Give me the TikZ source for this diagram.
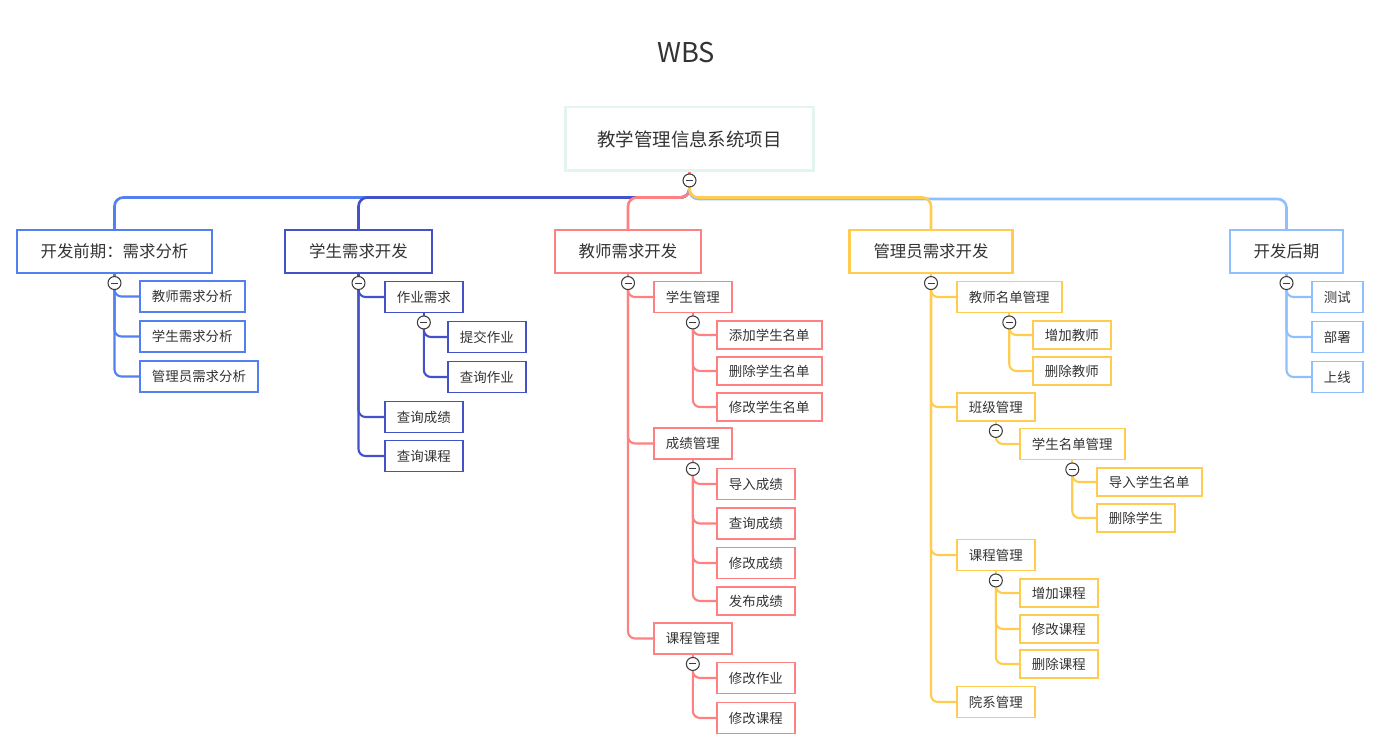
\documentclass[tikz,border=0pt]{standalone}
\usepackage{fontspec}
\setmainfont{Noto Sans CJK SC}
\usepackage{tikz}
\usetikzlibrary{calc}
\definecolor{ink}{RGB}{51,51,51}
\definecolor{rootline}{RGB}{228,245,241}
\definecolor{foldline}{RGB}{60,60,60}
\definecolor{wbsblue}{RGB}{82,128,240}
\definecolor{wbsnavy}{RGB}{67,82,200}
\definecolor{wbsred}{RGB}{255,128,128}
\definecolor{wbsyellow}{RGB}{255,204,80}
\definecolor{wbssky}{RGB}{142,192,255}
\tikzset{
	rootbox/.style={draw=rootline, line width=1.7pt, minimum height=1.28cm, inner xsep=0.64cm, text=ink, font=\fontsize{10.5pt}{12pt}\selectfont},
	topbox/.style={draw=#1, line width=1.2pt, minimum height=0.86cm, inner xsep=0.48cm, text=ink, font=\fontsize{9.35pt}{11pt}\selectfont},
	leaf/.style={draw=#1, line width=1.1pt, minimum height=0.62cm, inner xsep=0.24cm, anchor=west, text=ink, font=\fontsize{7.65pt}{9pt}\selectfont},
	leafs/.style={leaf=#1, minimum height=0.56cm},
	branch/.style={draw=#1, line width=1.5pt, rounded corners=5pt},
	twig/.style={draw=#1, line width=1.2pt, rounded corners=4pt},
	foldc/.style={circle, draw=foldline, fill=white, line width=0.6pt, minimum size=0.26cm, inner sep=0pt}
}
\def\foldmark#1{\node[foldc] (mark#1) at (#1) {}; \draw[foldline, line width=0.6pt] ($(#1)+(-3.5,0)$) -- ($(#1)+(3.5,0)$);}

\begin{document}
\begin{tikzpicture}[x=0.02cm, y=-0.02cm]
	%%%%% START %%%%%
	\useasboundingbox (0,0) rectangle (1377,749);
	
	\node[text=ink, font=\fontsize{15.5pt}{18pt}\selectfont] (title) at (686,53) {WBS};
	\node[rootbox] (root) at (689.5,139) {教学管理信息系统项目};
	
	\node[topbox=wbsblue] (k1) at (114.5,251.5) {开发前期：需求分析};
	\node[topbox=wbsnavy] (k2) at (358.5,251.5) {学生需求开发};
	\node[topbox=wbsred] (k3) at (628,251.5) {教师需求开发};
	\node[topbox=wbsyellow] (k4) at (931,251.5) {管理员需求开发};
	\node[topbox=wbssky] (k5) at (1286.5,251.5) {开发后期};
	
	\node[leaf=wbsblue] (a1) at (139,296.5) {教师需求分析};
	\node[leaf=wbsblue] (a2) at (139,336.5) {学生需求分析};
	\node[leaf=wbsblue] (a3) at (139,376.5) {管理员需求分析};
	
	\node[leaf=wbsnavy] (b1) at (384,297) {作业需求};
	\node[leaf=wbsnavy] (b11) at (447,337) {提交作业};
	\node[leaf=wbsnavy] (b12) at (447,377) {查询作业};
	\node[leaf=wbsnavy] (b2) at (384,417) {查询成绩};
	\node[leaf=wbsnavy] (b3) at (384,456) {查询课程};
	
	\node[leaf=wbsred] (c1) at (653,297) {学生管理};
	\node[leafs=wbsred] (c11) at (716,335) {添加学生名单};
	\node[leafs=wbsred] (c12) at (716,371) {删除学生名单};
	\node[leafs=wbsred] (c13) at (716,407) {修改学生名单};
	\node[leaf=wbsred] (c2) at (653,443.5) {成绩管理};
	\node[leaf=wbsred] (c21) at (716,484) {导入成绩};
	\node[leaf=wbsred] (c22) at (716,523.5) {查询成绩};
	\node[leaf=wbsred] (c23) at (716,563) {修改成绩};
	\node[leafs=wbsred] (c24) at (716,601) {发布成绩};
	\node[leaf=wbsred] (c3) at (653,638.5) {课程管理};
	\node[leaf=wbsred] (c31) at (716,678) {修改作业};
	\node[leaf=wbsred] (c32) at (716,718) {修改课程};
	
	\node[leaf=wbsyellow] (d1) at (956,297) {教师名单管理};
	\node[leafs=wbsyellow] (d11) at (1032,335) {增加教师};
	\node[leafs=wbsyellow] (d12) at (1032,371) {删除教师};
	\node[leafs=wbsyellow] (d2) at (956,407) {班级管理};
	\node[leaf=wbsyellow] (d21) at (1019,444) {学生名单管理};
	\node[leafs=wbsyellow] (d211) at (1096,482) {导入学生名单};
	\node[leafs=wbsyellow] (d212) at (1096,518) {删除学生};
	\node[leaf=wbsyellow] (d3) at (956,555) {课程管理};
	\node[leafs=wbsyellow] (d31) at (1019,593) {增加课程};
	\node[leafs=wbsyellow] (d32) at (1019,629) {修改课程};
	\node[leafs=wbsyellow] (d33) at (1019,664) {删除课程};
	\node[leaf=wbsyellow] (d4) at (956,702) {院系管理};
	
	\node[leaf=wbssky] (e1) at (1311,297) {测试};
	\node[leaf=wbssky] (e2) at (1311,337) {部署};
	\node[leaf=wbssky] (e3) at (1311,377) {上线};
	
	% fold points
	\coordinate (f0) at ($(root.south)+(0,8)$);
	\coordinate (hub) at ($(root.south)+(0,25)$);
	\foreach \k in {k1,k2,k3,k4,k5,b1,c1,c2,c3,d1,d2,d21,d3}
		\coordinate (f\k) at ($(\k.south)+(0,9)$);
	
	\draw[branch=wbsred] (root.south) -- (f0);
	\draw[branch=wbsblue] (f0) -- (hub) -| (k1.north);
	\draw[branch=wbsnavy] (f0) -- (hub) -| (k2.north);
	\draw[branch=wbsred] (f0) -- (hub) -| (k3.north);
	\draw[branch=wbssky] (f0) -- ($(hub)+(0,1.5)$) -| (k5.north);
	\draw[branch=wbsyellow] (f0) -- (hub) -| (k4.north);
	
	\draw[twig=wbsblue] (k1.south) -- (fk1);
	\foreach \n in {a1,a2,a3} \draw[twig=wbsblue] (fk1) |- (\n.west);
	
	\draw[twig=wbsnavy] (k2.south) -- (fk2);
	\foreach \n in {b1,b2,b3} \draw[twig=wbsnavy] (fk2) |- (\n.west);
	\draw[twig=wbsnavy] (b1.south) -- (fb1);
	\foreach \n in {b11,b12} \draw[twig=wbsnavy] (fb1) |- (\n.west);
	
	\draw[twig=wbsred] (k3.south) -- (fk3);
	\foreach \n in {c1,c2,c3} \draw[twig=wbsred] (fk3) |- (\n.west);
	\draw[twig=wbsred] (c1.south) -- (fc1);
	\foreach \n in {c11,c12,c13} \draw[twig=wbsred] (fc1) |- (\n.west);
	\draw[twig=wbsred] (c2.south) -- (fc2);
	\foreach \n in {c21,c22,c23,c24} \draw[twig=wbsred] (fc2) |- (\n.west);
	\draw[twig=wbsred] (c3.south) -- (fc3);
	\foreach \n in {c31,c32} \draw[twig=wbsred] (fc3) |- (\n.west);
	
	\draw[twig=wbsyellow] (k4.south) -- (fk4);
	\foreach \n in {d1,d2,d3,d4} \draw[twig=wbsyellow] (fk4) |- (\n.west);
	\draw[twig=wbsyellow] (d1.south) -- (fd1);
	\foreach \n in {d11,d12} \draw[twig=wbsyellow] (fd1) |- (\n.west);
	\draw[twig=wbsyellow] (d2.south) -- (fd2);
	\draw[twig=wbsyellow] (fd2) |- (d21.west);
	\draw[twig=wbsyellow] (d21.south) -- (fd21);
	\foreach \n in {d211,d212} \draw[twig=wbsyellow] (fd21) |- (\n.west);
	\draw[twig=wbsyellow] (d3.south) -- (fd3);
	\foreach \n in {d31,d32,d33} \draw[twig=wbsyellow] (fd3) |- (\n.west);
	
	\draw[twig=wbssky] (k5.south) -- (fk5);
	\foreach \n in {e1,e2,e3} \draw[twig=wbssky] (fk5) |- (\n.west);
	
	% fold marks
	\foldmark{f0}
	\foreach \k in {k1,k2,k3,k4,k5,b1,c1,c2,c3,d1,d2,d21,d3} {\foldmark{f\k}}
	
	%%%%% END %%%%%
\end{tikzpicture}
\end{document}
